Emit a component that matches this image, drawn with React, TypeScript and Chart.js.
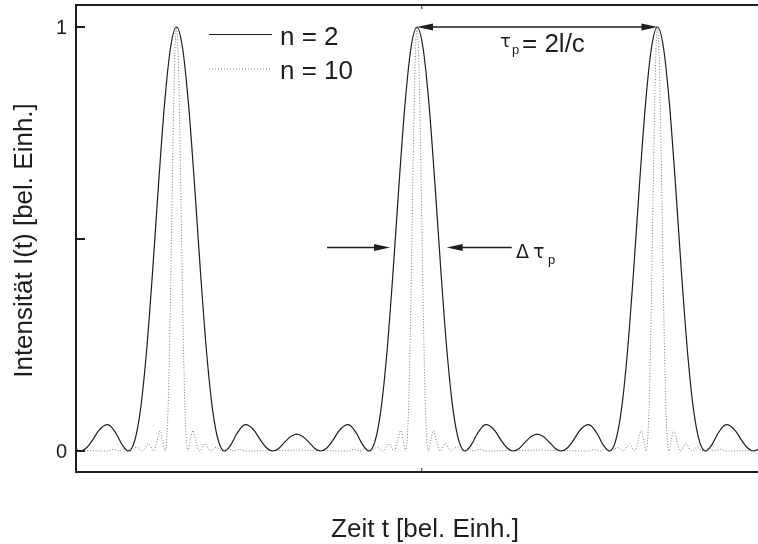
import React, { useEffect, useRef } from "react";
import { Chart, registerables } from "chart.js";

Chart.register(...registerables);

// ---- data (time t in pulse periods, intensity normalised) ----
const tSolid = [
  -0.418, -0.4, -0.375, -0.35, -0.325, -0.29, -0.275, -0.25, -0.225, -0.2, -0.175, -0.15, -0.125, -0.1, -0.075, -0.05, -0.025,
  0, 0.025, 0.05, 0.075, 0.1, 0.125, 0.15, 0.175, 0.2, 0.225, 0.25, 0.275, 0.29, 0.325, 0.35, 0.375, 0.4, 0.425, 0.45, 0.475,
  0.5, 0.525, 0.55, 0.575, 0.6, 0.625, 0.65, 0.675, 0.71, 0.725, 0.75, 0.775, 0.8, 0.825, 0.85, 0.875, 0.9, 0.925, 0.95, 0.975,
  1, 1.025, 1.05, 1.075, 1.1, 1.125, 1.15, 1.175, 1.2, 1.225, 1.25, 1.275, 1.29, 1.325, 1.35, 1.375, 1.4, 1.425, 1.45, 1.475,
  1.5, 1.525, 1.55, 1.575, 1.6, 1.625, 1.65, 1.675, 1.71, 1.725, 1.75, 1.775, 1.8, 1.825, 1.85, 1.875, 1.9, 1.925, 1.95, 1.975,
  2, 2.025, 2.05, 2.075, 2.1, 2.125, 2.15, 2.175, 2.2, 2.225, 2.25, 2.275, 2.29, 2.325, 2.35, 2.375, 2.4, 2.418,
];
const iSolid = [
  0.004, 0, 0.007, 0.025, 0.047, 0.062, 0.059, 0.04, 0.014, 0, 0.022, 0.097, 0.233, 0.419, 0.627, 0.817, 0.951,
  1, 0.951, 0.817, 0.627, 0.419, 0.233, 0.097, 0.022, 0, 0.014, 0.04, 0.059, 0.062, 0.047, 0.025, 0.007, 0, 0.006, 0.021, 0.034,
  0.04, 0.034, 0.021, 0.006, 0, 0.007, 0.025, 0.047, 0.062, 0.059, 0.04, 0.014, 0, 0.022, 0.097, 0.233, 0.419, 0.627, 0.817, 0.951,
  1, 0.951, 0.817, 0.627, 0.419, 0.233, 0.097, 0.022, 0, 0.014, 0.04, 0.059, 0.062, 0.047, 0.025, 0.007, 0, 0.006, 0.021, 0.034,
  0.04, 0.034, 0.021, 0.006, 0, 0.007, 0.025, 0.047, 0.062, 0.059, 0.04, 0.014, 0, 0.022, 0.097, 0.233, 0.419, 0.627, 0.817, 0.951,
  1, 0.951, 0.817, 0.627, 0.419, 0.233, 0.097, 0.022, 0, 0.014, 0.04, 0.059, 0.062, 0.047, 0.025, 0.007, 0, 0.004,
];
const tDotted = [
  -0.418, -0.2857, -0.2619, -0.2381, -0.2133, -0.1905, -0.1652, -0.1429, -0.1171, -0.0952, -0.081, -0.0681, -0.0571, -0.0476,
  -0.04, -0.035, -0.03, -0.025, -0.02, -0.015, -0.01, -0.005,
  0, 0.005, 0.01, 0.015, 0.02, 0.025, 0.03, 0.035, 0.04, 0.0476, 0.0571, 0.0681, 0.081, 0.0952, 0.1171, 0.1429, 0.1652, 0.1905,
  0.2133, 0.2381, 0.2619, 0.2857, 0.5, 0.7143, 0.7381, 0.7619, 0.7867, 0.8095, 0.8348, 0.8571, 0.8829, 0.9048, 0.919, 0.9319,
  0.9429, 0.9524, 0.96, 0.965, 0.97, 0.975, 0.98, 0.985, 0.99, 0.995,
  1, 1.005, 1.01, 1.015, 1.02, 1.025, 1.03, 1.035, 1.04, 1.0476, 1.0571, 1.0681, 1.081, 1.0952, 1.1171, 1.1429, 1.1652, 1.1905,
  1.2133, 1.2381, 1.2619, 1.2857, 1.5, 1.7143, 1.7381, 1.7619, 1.7867, 1.8095, 1.8348, 1.8571, 1.8829, 1.9048, 1.919, 1.9319,
  1.9429, 1.9524, 1.96, 1.965, 1.97, 1.975, 1.98, 1.985, 1.99, 1.995,
  2, 2.005, 2.01, 2.015, 2.02, 2.025, 2.03, 2.035, 2.04, 2.0476, 2.0571, 2.0681, 2.081, 2.0952, 2.1171, 2.1429, 2.1652, 2.1905,
  2.2133, 2.2381, 2.2619, 2.2857, 2.418,
];
const iDotted = [
  0.001, 0, 0.004, 0, 0.006, 0, 0.009, 0, 0.017, 0, 0.023, 0.048, 0.025, 0,
  0.034, 0.103, 0.216, 0.366, 0.54, 0.714, 0.863, 0.964,
  1, 0.964, 0.863, 0.714, 0.54, 0.366, 0.216, 0.103, 0.034, 0, 0.025, 0.048, 0.023, 0, 0.017, 0, 0.009, 0,
  0.006, 0, 0.004, 0, 0.002, 0, 0.004, 0, 0.006, 0, 0.009, 0, 0.017, 0, 0.023, 0.048,
  0.025, 0, 0.034, 0.103, 0.216, 0.366, 0.54, 0.714, 0.863, 0.964,
  1, 0.964, 0.863, 0.714, 0.54, 0.366, 0.216, 0.103, 0.034, 0, 0.025, 0.048, 0.023, 0, 0.017, 0, 0.009, 0,
  0.006, 0, 0.004, 0, 0.002, 0, 0.004, 0, 0.006, 0, 0.009, 0, 0.017, 0, 0.023, 0.048,
  0.025, 0, 0.034, 0.103, 0.216, 0.366, 0.54, 0.714, 0.863, 0.964,
  1, 0.964, 0.863, 0.714, 0.54, 0.366, 0.216, 0.103, 0.034, 0, 0.025, 0.048, 0.023, 0, 0.017, 0, 0.009, 0,
  0.006, 0, 0.004, 0, 0.001,
];

const yTicks = [0, 0.5, 1];
const yTickLabels = ["0", "", "1"];
const xTicks = [1.02];
const legendLabels = ["n = 2", "n = 10"];
const xTitle = "Zeit t [bel. Einh.]";
const yTitle = "Intensität I(t) [bel. Einh.]";

const FONT = '"Liberation Sans", Arial, Helvetica, sans-serif';
const GREEK = '"DejaVu Sans", "Liberation Sans", sans-serif';
const INK = "#1e1e1e";
const DOT = "#7c7c7c";

function arrowHead(ctx: CanvasRenderingContext2D, tipX: number, y: number, dir: number) {
  ctx.beginPath();
  ctx.moveTo(tipX, y);
  ctx.lineTo(tipX - dir * 16, y - 3.6);
  ctx.lineTo(tipX - dir * 16, y + 3.6);
  ctx.closePath();
  ctx.fill();
}

const overlay = {
  id: "overlay",
  afterDraw(chart: any) {
    const { ctx, chartArea: a, scales } = chart;
    const xs = scales.x;
    const ys = scales.y;
    ctx.save();
    ctx.strokeStyle = INK;
    ctx.fillStyle = INK;
    ctx.lineWidth = 2;
    ctx.setLineDash([]);
    // frame (left, top, bottom)
    ctx.beginPath();
    ctx.moveTo(a.right, a.top);
    ctx.lineTo(a.left, a.top);
    ctx.lineTo(a.left, a.bottom);
    ctx.lineTo(a.right, a.bottom);
    ctx.stroke();

    // y ticks and labels
    ctx.font = `20px ${FONT}`;
    ctx.textAlign = "right";
    ctx.textBaseline = "alphabetic";
    yTicks.forEach((v, i) => {
      const y = ys.getPixelForValue(v);
      ctx.beginPath();
      ctx.moveTo(a.left, y);
      ctx.lineTo(a.left + 9, y);
      ctx.stroke();
      if (yTickLabels[i]) ctx.fillText(yTickLabels[i], a.left - 9, y + 7);
    });

    // x ticks (inward, top and bottom)
    ctx.lineWidth = 1;
    xTicks.forEach((v) => {
      const x = xs.getPixelForValue(v);
      ctx.beginPath();
      ctx.moveTo(x, a.bottom);
      ctx.lineTo(x, a.bottom - 4);
      ctx.moveTo(x, a.top);
      ctx.lineTo(x, a.top + 4);
      ctx.stroke();
    });

    // axis titles
    ctx.font = `26px ${FONT}`;
    ctx.textAlign = "center";
    ctx.fillText(xTitle, (a.left + a.right) / 2 + 8, 537);
    ctx.save();
    ctx.translate(32, (a.top + a.bottom) / 2 + 2);
    ctx.rotate(-Math.PI / 2);
    ctx.fillText(yTitle, 0, 0);
    ctx.restore();

    // legend
    const lx = a.left + 133;
    ctx.lineWidth = 1.2;
    ctx.beginPath();
    ctx.moveTo(lx, 34.5);
    ctx.lineTo(lx + 63, 34.5);
    ctx.stroke();
    ctx.strokeStyle = DOT;
    ctx.lineWidth = 1;
    ctx.setLineDash([1, 2]);
    ctx.beginPath();
    ctx.moveTo(lx, 69);
    ctx.lineTo(lx + 63, 69);
    ctx.stroke();
    ctx.setLineDash([]);
    ctx.strokeStyle = INK;
    ctx.textAlign = "left";
    ctx.font = `26px ${FONT}`;
    ctx.fillText(legendLabels[0], lx + 71, 44.5);
    ctx.fillText(legendLabels[1], lx + 71, 78.5);

    // period arrow between pulses
    const yTop = ys.getPixelForValue(1);
    const x1 = xs.getPixelForValue(1);
    const x2 = xs.getPixelForValue(2);
    ctx.lineWidth = 1.3;
    ctx.beginPath();
    ctx.moveTo(x1 + 8, yTop);
    ctx.lineTo(x2 - 8, yTop);
    ctx.stroke();
    arrowHead(ctx, x1, yTop, -1);
    arrowHead(ctx, x2, yTop, 1);
    ctx.font = `18px ${GREEK}`;
    ctx.fillText("τ", 500, 47);
    ctx.font = `13px ${FONT}`;
    ctx.fillText("p", 512, 54);
    ctx.font = `26px ${FONT}`;
    ctx.fillText("= 2l/c", 522, 52);

    // pulse width arrows
    const yW = ys.getPixelForValue(0.48);
    const la = xs.getPixelForValue(0.626);
    const lt = xs.getPixelForValue(0.888);
    const rt = xs.getPixelForValue(1.1235);
    const ra = xs.getPixelForValue(1.394);
    ctx.beginPath();
    ctx.moveTo(la, yW);
    ctx.lineTo(lt - 8, yW);
    ctx.moveTo(rt + 8, yW);
    ctx.lineTo(ra, yW);
    ctx.stroke();
    arrowHead(ctx, lt, yW, 1);
    arrowHead(ctx, rt, yW, -1);
    ctx.font = `19px ${GREEK}`;
    ctx.fillText("Δ", 516, 258);
    ctx.font = `19px ${GREEK}`;
    ctx.fillText("τ", 533, 258);
    ctx.font = `13px ${FONT}`;
    ctx.fillText("p", 548, 264);

    ctx.restore();
  },
};

export default function App() {
  const ref = useRef<HTMLCanvasElement | null>(null);
  useEffect(() => {
    document.body.style.margin = "0";
    const canvas = ref.current;
    if (!canvas) return;
    const chart = new Chart(canvas, {
      type: "line",
      data: {
        datasets: [
          {
            label: legendLabels[0],
            data: tSolid.map((x, i) => ({ x, y: iSolid[i] })),
            borderColor: INK,
            borderWidth: 1.2,
            pointRadius: 0,
            cubicInterpolationMode: "monotone",
            fill: false,
          },
          {
            label: legendLabels[1],
            data: tDotted.map((x, i) => ({ x, y: iDotted[i] })),
            borderColor: DOT,
            borderWidth: 1,
            borderDash: [1, 1.8],
            pointRadius: 0,
            cubicInterpolationMode: "monotone",
            fill: false,
          },
        ],
      },
      options: {
        responsive: false,
        animation: false,
        events: [],
        layout: { padding: { left: 76, top: 5, right: 0, bottom: 72 } },
        scales: {
          x: { type: "linear", min: -0.418, max: 2.418, display: false },
          y: { type: "linear", min: -0.0495, max: 1.0519, display: false },
        },
        plugins: { legend: { display: false }, tooltip: { enabled: false } },
      },
      plugins: [overlay],
    } as any);
    return () => chart.destroy();
  }, []);
  return (
    <div style={{ width: 758, height: 544, background: "#fff" }}>
      <canvas ref={ref} width={758} height={544} style={{ display: "block" }} />
    </div>
  );
}
